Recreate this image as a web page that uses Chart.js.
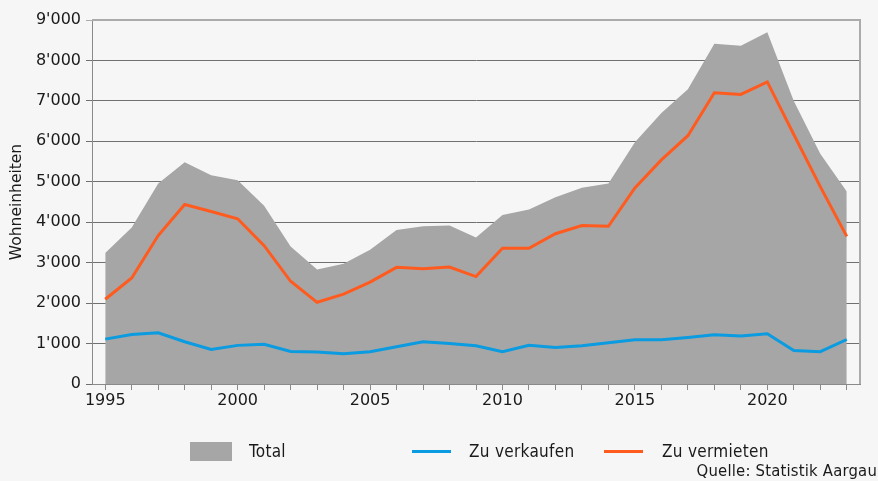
<!DOCTYPE html>
<html>
<head>
<meta charset="utf-8">
<script src="https://cdn.jsdelivr.net/npm/chart.js@4/dist/chart.umd.min.js"></script>
<style>
  html, body { margin: 0; padding: 0; background: #f6f6f6; }
  #wrap { position: relative; width: 878px; height: 481px; overflow: hidden; }
  #chart { position: absolute; left: 0; top: 0; }
  .lg { position: absolute; font-family: "DejaVu Sans Condensed", "DejaVu Sans", sans-serif; font-size: 17px; letter-spacing: 0.3px; color: #1a1a1a; line-height: 1; }
  .sw { position: absolute; }
</style>
</head>
<body>
<div id="wrap">
  <canvas id="chart" width="878" height="481"></canvas>
  <div id="legend"></div>
  <div class="lg" style="right:1px; top:463px; font-size:16.5px; letter-spacing:0.2px;">Quelle: Statistik Aargau</div>
</div>
<script>
// Jahre 1995-2023
const years = [1995, 1996, 1997, 1998, 1999, 2000, 2001, 2002, 2003, 2004,
  2005, 2006, 2007, 2008, 2009, 2010, 2011, 2012, 2013, 2014,
  2015, 2016, 2017, 2018, 2019, 2020, 2021, 2022, 2023];

// Leerwohnungen total
const total = [3240, 3870, 4960, 5480, 5160, 5040, 4410, 3400, 2830, 2975,
  3320, 3810, 3900, 3920, 3620, 4180, 4315, 4620, 4850, 4960,
  5975, 6700, 7290, 8415, 8365, 8700, 7000, 5690, 4760];

// zu verkaufen
const zuVerkaufen = [1110, 1225, 1265, 1045, 855, 955, 980, 805, 790, 750,
  800, 920, 1045, 1000, 945, 800, 955, 905, 945, 1020,
  1095, 1095, 1150, 1215, 1185, 1240, 830, 800, 1100];

// zu vermieten
const zuVermieten = [2095, 2620, 3670, 4440, 4265, 4085, 3420, 2540, 2020, 2220,
  2520, 2885, 2850, 2890, 2655, 3355, 3355, 3715, 3920, 3900,
  4850, 5540, 6140, 7200, 7160, 7470, 6170, 4880, 3650];

const yTicks = [0, 1000, 2000, 3000, 4000, 5000, 6000, 7000, 8000, 9000];

function fmt(v) {
  return String(v).replace(/\B(?=(\d{3})+(?!\d))/g, "'");
}

const tickFont = { family: "DejaVu Sans", size: 16 };

// Rahmen oben und rechts
const frame = {
  id: 'frame',
  beforeDatasetsDraw(chart) {
    const a = chart.chartArea;
    const c = chart.ctx;
    c.save();
    c.strokeStyle = '#ababab';
    c.lineWidth = 2;
    c.beginPath();
    c.moveTo(a.left, a.top);
    c.lineTo(a.right, a.top);
    c.lineTo(a.right, a.bottom);
    c.stroke();
    c.restore();
  }
};

const ctx = document.getElementById('chart').getContext('2d');
const chart = new Chart(ctx, {
  type: 'line',
  data: {
    labels: years,
    datasets: [
      {
        label: 'Zu verkaufen',
        data: zuVerkaufen,
        borderColor: '#0a9be0',
        borderWidth: 3,
        pointRadius: 0,
        fill: false,
        order: 0
      },
      {
        label: 'Zu vermieten',
        data: zuVermieten,
        borderColor: '#ff5b1f',
        borderWidth: 3,
        pointRadius: 0,
        fill: false,
        order: 0
      },
      {
        label: 'Total',
        data: total,
        borderWidth: 0,
        borderColor: 'rgba(0,0,0,0)',
        backgroundColor: '#a6a6a6',
        pointRadius: 0,
        fill: 'origin',
        order: 2
      }
    ]
  },
  options: {
    responsive: false,
    animation: false,
    layout: { padding: { left: 0, right: 18, top: 20, bottom: 0 } },
    plugins: {
      legend: { display: false },
      tooltip: { enabled: false }
    },
    scales: {
      x: {
        offset: true,
        grid: { drawOnChartArea: false, tickLength: 6, color: '#8a8a8a', offset: false },
        border: { color: '#8a8a8a' },
        ticks: {
          autoSkip: false,
          maxRotation: 0,
          padding: 1,
          color: '#1a1a1a',
          font: tickFont,
          callback: function (v, i) { return years[i] % 5 === 0 ? String(years[i]) : ''; }
        },
        afterFit: function (s) { s.height = 97; }
      },
      y: {
        min: 0,
        max: 9000,
        afterBuildTicks: function (s) { s.ticks = yTicks.map(v => ({ value: v })); },
        grid: {
          tickLength: 6,
          color: function (c) { return c.tick && c.tick.value === 9000 ? '#ababab' : '#707070'; }
        },
        border: { color: '#8a8a8a' },
        ticks: {
          padding: 5,
          color: '#1a1a1a',
          font: tickFont,
          callback: function (v) { return fmt(v); }
        },
        title: {
          display: true,
          text: 'Wohneinheiten',
          color: '#1a1a1a',
          font: { family: "DejaVu Sans", size: 15.5 },
          padding: { top: 8, bottom: 0 }
        },
        afterFit: function (s) { s.width = 92; }
      }
    }
  },
  plugins: [frame]
});

// Legende (HTML)
const legendItems = [
  { text: 'Total', color: '#a6a6a6', box: true, x: 190, tx: 249 },
  { text: 'Zu verkaufen', color: '#0a9be0', box: false, x: 412, tx: 469 },
  { text: 'Zu vermieten', color: '#ff5b1f', box: false, x: 604, tx: 662 }
];
const lg = document.getElementById('legend');
legendItems.forEach(it => {
  const sw = document.createElement('div');
  sw.className = 'sw';
  sw.style.left = it.x + 'px';
  sw.style.background = it.color;
  if (it.box) {
    sw.style.top = '442px'; sw.style.width = '42px'; sw.style.height = '19px';
  } else {
    sw.style.top = '450px'; sw.style.width = '39px'; sw.style.height = '3px';
  }
  lg.appendChild(sw);
  const t = document.createElement('div');
  t.className = 'lg';
  t.style.left = it.tx + 'px';
  t.style.top = '443px';
  t.textContent = it.text;
  lg.appendChild(t);
});
</script>
</body>
</html>
